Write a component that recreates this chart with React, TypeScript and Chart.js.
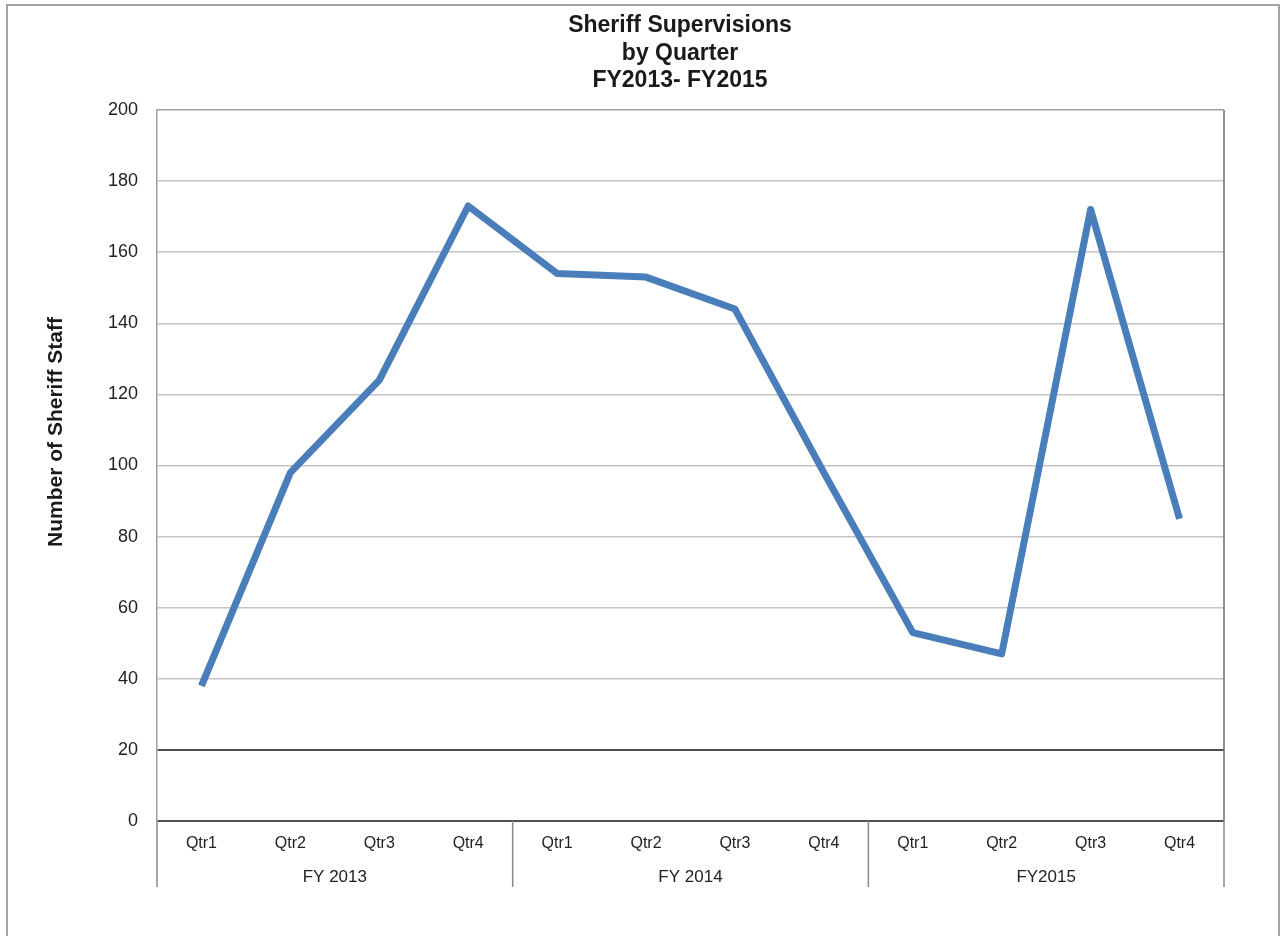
import React, { useEffect, useRef } from "react";
import { Chart, registerables } from "chart.js";

Chart.register(...registerables);

// Quarter labels along the category axis
const quarterLabels = [
  "Qtr1", "Qtr2", "Qtr3", "Qtr4",
  "Qtr1", "Qtr2", "Qtr3", "Qtr4",
  "Qtr1", "Qtr2", "Qtr3", "Qtr4",
];

// Fiscal-year groups: name and number of quarters each spans
const fiscalYears = ["FY 2013", "FY 2014", "FY2015"];
const quartersPerYear = [4, 4, 4];

// Sheriff staff supervisions per quarter
const supervisions = [38, 98, 124, 173, 154, 153, 144, 98, 53, 47, 172, 85];

const titleLines = ["Sheriff Supervisions", "by Quarter", "FY2013- FY2015"];
const yAxisTitle = "Number of Sheriff Staff";

const FONT = "'Liberation Sans', Arial, Helvetica, sans-serif";

const decorations = {
  id: "decorations",
  afterDraw(chart: any) {
    const { ctx, chartArea } = chart;
    const x = chart.scales.x;
    ctx.save();

    // outer frame
    ctx.strokeStyle = "#a3a3a3";
    ctx.lineWidth = 2;
    ctx.beginPath();
    ctx.moveTo(7, 960);
    ctx.lineTo(7, 5);
    ctx.lineTo(1279, 5);
    ctx.lineTo(1279, 960);
    ctx.stroke();

    // right edge of plot area
    ctx.strokeStyle = "#6f6f6f";
    ctx.lineWidth = 1.5;
    ctx.beginPath();
    ctx.moveTo(chartArea.right, chartArea.top);
    ctx.lineTo(chartArea.right, chartArea.bottom);
    ctx.stroke();

    // chart title
    ctx.fillStyle = "#1a1a1a";
    ctx.font = `bold 23px ${FONT}`;
    ctx.textAlign = "center";
    ctx.textBaseline = "middle";
    titleLines.forEach((t, i) => ctx.fillText(t, 680, 26 + i * 27.5));

    // y axis title
    ctx.save();
    ctx.translate(56, 432);
    ctx.rotate(-Math.PI / 2);
    ctx.font = `bold 21px ${FONT}`;
    ctx.fillText(yAxisTitle, 0, 0);
    ctx.restore();

    // fiscal-year group separators and labels
    const step = x.getPixelForValue(1) - x.getPixelForValue(0);
    let start = 0;
    const edges: number[] = [chartArea.left];
    fiscalYears.forEach((name, g) => {
      const n = quartersPerYear[g];
      const left = x.getPixelForValue(start) - step / 2;
      const right = x.getPixelForValue(start + n - 1) + step / 2;
      edges.push(right);
      ctx.font = `17px ${FONT}`;
      ctx.fillStyle = "#222";
      ctx.fillText(name, (left + right) / 2, 877);
      start += n;
    });
    ctx.strokeStyle = "#8a8a8a";
    ctx.lineWidth = 1.5;
    edges.forEach((ex) => {
      ctx.beginPath();
      ctx.moveTo(ex, chartArea.bottom);
      ctx.lineTo(ex, 887);
      ctx.stroke();
    });

    ctx.restore();
  },
};

export default function App() {
  const ref = useRef<HTMLCanvasElement | null>(null);

  useEffect(() => {
    if (!ref.current) return;
    const chart = new Chart(ref.current, {
      type: "line",
      data: {
        labels: quarterLabels,
        datasets: [
          {
            data: supervisions,
            borderColor: "#4a7ebb",
            borderWidth: 7,
            pointRadius: 0,
            pointHoverRadius: 0,
            borderJoinStyle: "round",
            borderCapStyle: "butt",
            tension: 0,
            fill: false,
          },
        ],
      },
      options: {
        animation: false,
        responsive: false,
        devicePixelRatio: 1,
        layout: { padding: { top: 110, right: 57, left: 0, bottom: 0 } },
        plugins: {
          legend: { display: false },
          title: { display: false },
          tooltip: { enabled: false },
        },
        scales: {
          x: {
            type: "category",
            offset: true,
            grid: { display: false, drawTicks: false },
            border: { display: false },
            ticks: {
              color: "#222",
              font: { family: FONT, size: 16 },
              padding: 13,
              maxRotation: 0,
              autoSkip: false,
            },
            afterFit(scale: any) {
              scale.height = 115;
            },
          },
          y: {
            min: 0,
            max: 200,
            grid: {
              drawTicks: false,
              color: (c: any) => {
                const v = c.tick?.value;
                if (v === 0 || v === 20) return "#505050";
                if (v === 200) return "#a0a0a0";
                return "#c4c4c4";
              },
              lineWidth: (c: any) => {
                const v = c.tick?.value;
                return v === 0 || v === 20 ? 2 : 1.5;
              },
            },
            border: { display: true, color: "#a0a0a0", width: 1.5 },
            ticks: {
              stepSize: 20,
              color: "#222",
              font: { family: FONT, size: 18 },
              padding: 19,
            },
            afterFit(scale: any) {
              scale.width = 157;
            },
          },
        },
      },
      plugins: [decorations],
    });
    return () => chart.destroy();
  }, []);

  return (
    <div style={{ position: "absolute", left: 0, top: 0, width: 1281, height: 936, background: "#fff" }}>
      <canvas ref={ref} width={1281} height={936} style={{ display: "block" }} />
    </div>
  );
}
